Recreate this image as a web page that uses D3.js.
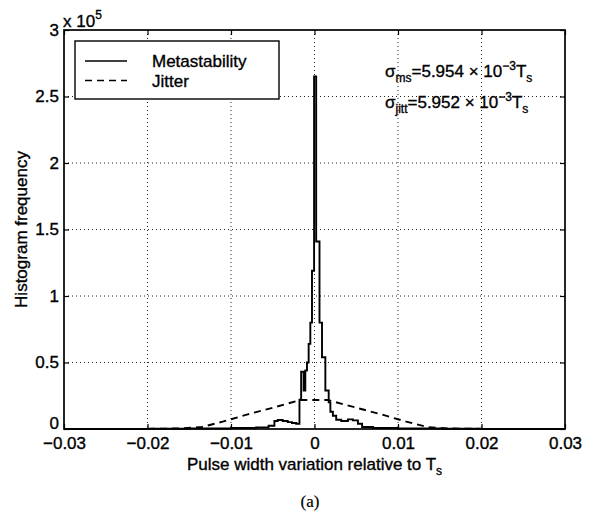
<!DOCTYPE html>
<html>
<head>
<meta charset="utf-8">
<script src="https://cdn.jsdelivr.net/npm/d3@7"></script>
<style>
	body{margin:0;background:#fff;}
	svg{display:block;font-family:"Liberation Sans",Arial,sans-serif;}
	svg text{fill:#000;stroke:#000;stroke-width:0.35px;}
</style>
</head>
<body>
<svg id="chart" width="595" height="514"></svg>
<script>
// metastability histogram, drawn as stairs: bin edges and heights (x 10^5)
var metaEdges = [-0.0300, -0.0200, -0.0150, -0.0100, -0.0070, -0.0055, -0.0048, -0.0044, -0.0038, -0.0032,
	-0.0027, -0.0022, -0.0018, -0.0016, -0.0013, -0.0011, -0.0009, -0.0007, -0.0005, -0.0003,
	-0.00005, 0.0002, 0.0006, 0.0009, 0.0013, 0.0017, 0.0019, 0.0022, 0.0026, 0.0032,
	0.0040, 0.0046, 0.0052, 0.0057, 0.0070, 0.0100, 0.0150, 0.0200, 0.0300];
var metaCounts = [0.000, 0.002, 0.004, 0.008, 0.012, 0.025, 0.060, 0.068, 0.060, 0.052,
	0.045, 0.040, 0.220, 0.430, 0.290, 0.440, 0.500, 0.640, 0.800, 1.190,
	2.650, 1.410, 0.800, 0.540, 0.290, 0.200, 0.130, 0.100, 0.070, 0.060,
	0.072, 0.065, 0.040, 0.015, 0.008, 0.004, 0.002, 0.000];

// jitter histogram (x 10^5)
var jitterX = [-0.030, -0.020, -0.016, -0.0135, -0.011, -0.008, -0.005, -0.0017,
	0.0016, 0.005, 0.008, 0.011, 0.0135, 0.016, 0.020, 0.030];
var jitterY = [0, 0.001, 0.004, 0.015, 0.055, 0.110, 0.160, 0.218,
	0.218, 0.160, 0.110, 0.055, 0.015, 0.004, 0.001, 0];

var xTicks = [-0.03, -0.02, -0.01, 0, 0.01, 0.02, 0.03];
var xTickLabels = ["\u22120.03", "\u22120.02", "\u22120.01", "0", "0.01", "0.02", "0.03"];
var yTicks = [0, 0.5, 1, 1.5, 2, 2.5, 3];
var yTickLabels = ["0", "0.5", "1", "1.5", "2", "2.5", "3"];
var legendLabels = ["Metastability", "Jitter"];
var sigmaValues = ["5.954", "5.952"];
var sigmaSubs = ["ms", "jitt"];

function drawChart(){
	var svg = d3.select("#chart"),
		margin = {top: 30, right: 30, bottom: 85, left: 64},
		width = 595,
		height = 514,
		fontSize = "17px",
		subSize = "12px",
		plotW = width - margin.left - margin.right,
		plotH = height - margin.top - margin.bottom,
		xRange = d3.scaleLinear().domain([-0.03, 0.03]).range([0, plotW]),
		yRange = d3.scaleLinear().domain([0, 3]).range([plotH, 0]),
		plot,
		tickFmtX = function(d, i){ return xTickLabels[i]; },
		tickFmtY = function(d, i){ return yTickLabels[i]; };

	initPlot();
	drawGrid();
	drawLines();
	drawAxes();
	drawLegend();
	drawSigmas();
	drawLabels();

	function initPlot(){
		plot = svg.append("g").attr("transform", "translate(" + margin.left + "," + margin.top + ")");
	}

	function drawGrid(){
		var grid = plot.append("g").attr("class", "grid");
		grid.selectAll(".gx").data(xTicks.slice(1, -1)).enter().append("line")
			.attr("x1", function(d){ return xRange(d); })
			.attr("x2", function(d){ return xRange(d); })
			.attr("y1", 0).attr("y2", plotH);
		grid.selectAll(".gy").data(yTicks.slice(1, -1)).enter().append("line")
			.attr("y1", function(d){ return yRange(d); })
			.attr("y2", function(d){ return yRange(d); })
			.attr("x1", 0).attr("x2", plotW);
		grid.selectAll("line")
			.attr("stroke", "#222")
			.attr("stroke-width", 1)
			.attr("stroke-dasharray", "1,3");
	}

	function drawLines(){
		var stairs = metaCounts.map(function(c, i){ return [metaEdges[i], c]; });
		stairs.push([metaEdges[metaEdges.length - 1], metaCounts[metaCounts.length - 1]]);

		var stepLine = d3.line()
			.x(function(d){ return xRange(d[0]); })
			.y(function(d){ return yRange(d[1]); })
			.curve(d3.curveStepAfter);
		var jitLine = d3.line()
			.x(function(d){ return xRange(d[0]); })
			.y(function(d){ return yRange(d[1]); });

		plot.append("path")
			.attr("d", jitLine(jitterX.map(function(x, i){ return [x, jitterY[i]]; })))
			.attr("fill", "none")
			.attr("stroke", "#000")
			.attr("stroke-width", 1.9)
			.attr("stroke-dasharray", "7,5");

		plot.append("path")
			.attr("d", stepLine(stairs))
			.attr("fill", "none")
			.attr("stroke", "#000")
			.attr("stroke-width", 1.9);
	}

	function drawAxes(){
		var xBottom = d3.axisBottom(xRange).tickValues(xTicks).tickFormat(tickFmtX).tickSizeInner(-5).tickSizeOuter(0).tickPadding(8),
			xTop = d3.axisTop(xRange).tickValues(xTicks).tickFormat("").tickSizeInner(-5).tickSizeOuter(0),
			yLeft = d3.axisLeft(yRange).tickValues(yTicks).tickFormat(tickFmtY).tickSizeInner(-5).tickSizeOuter(0).tickPadding(5),
			yRight = d3.axisRight(yRange).tickValues(yTicks).tickFormat("").tickSizeInner(-5).tickSizeOuter(0);

		var gx = plot.append("g").attr("transform", "translate(0," + plotH + ")").call(xBottom);
		plot.append("g").call(xTop);
		var gy = plot.append("g").call(yLeft);
		plot.append("g").attr("transform", "translate(" + plotW + ",0)").call(yRight);

		plot.selectAll(".domain").remove();
		plot.selectAll(".tick line").attr("stroke", "#000").attr("stroke-width", 1.2);
		plot.selectAll(".tick text")
			.style("font-family", "'Liberation Sans',Arial,sans-serif")
			.style("font-size", fontSize);
		gx.selectAll(".tick text").attr("dy", "0.72em");
		// lift the bottom y label so it clears the x labels
		gy.selectAll(".tick text").filter(function(d){ return d === 0; }).attr("dy", "-0.05em");

		plot.append("rect")
			.attr("x", 0).attr("y", 0)
			.attr("width", plotW).attr("height", plotH)
			.attr("fill", "none")
			.attr("stroke", "#000")
			.attr("stroke-width", 1.7);

		// exponent above the y axis
		var expo = svg.append("text").attr("x", margin.left - 1).attr("y", 27).style("font-size", fontSize);
		expo.append("tspan").text("x 10");
		expo.append("tspan").attr("dy", -8).style("font-size", subSize).text("5");
	}

	function drawLegend(){
		var lg = svg.append("g").attr("transform", "translate(75,41)");
		lg.append("rect")
			.attr("width", 204).attr("height", 58)
			.attr("fill", "#fff")
			.attr("stroke", "#000")
			.attr("stroke-width", 1.4);
		var items = lg.selectAll(".item").data(legendLabels).enter().append("g")
			.attr("transform", function(d, i){ return "translate(0," + (20 + i * 19.5) + ")"; });
		items.append("line")
			.attr("x1", 10).attr("x2", 52)
			.attr("stroke", "#000")
			.attr("stroke-width", 1.7)
			.attr("stroke-dasharray", function(d, i){ return i ? "7,5" : null; });
		items.append("text")
			.attr("x", 77).attr("y", 6)
			.style("font-size", fontSize)
			.text(function(d){ return d; });
	}

	function drawSigmas(){
		var rows = svg.selectAll(".sigma").data(sigmaValues).enter().append("text")
			.attr("class", "sigma")
			.attr("x", 385)
			.attr("y", function(d, i){ return 77 + i * 31; })
			.style("font-size", fontSize);
		rows.append("tspan").text("\u03c3");
		rows.append("tspan").attr("dy", 5).style("font-size", subSize).text(function(d, i){ return sigmaSubs[i]; });
		rows.append("tspan").attr("dy", -5).text(function(d){ return "=" + d + " \u00d7 10"; });
		rows.append("tspan").attr("dy", -7).style("font-size", subSize).text("\u22123");
		rows.append("tspan").attr("dy", 7).text("T");
		rows.append("tspan").attr("dy", 5).style("font-size", subSize).text("s");
	}

	function drawLabels(){
		var xl = svg.append("text")
			.attr("x", margin.left + plotW / 2)
			.attr("y", 470)
			.attr("text-anchor", "middle")
			.style("font-size", fontSize);
		xl.append("tspan").text("Pulse width variation relative to T");
		xl.append("tspan").attr("dy", 5).style("font-size", subSize).text("s");

		svg.append("text")
			.attr("transform", "translate(27," + (margin.top + plotH / 2) + ") rotate(-90)")
			.attr("text-anchor", "middle")
			.style("font-size", fontSize)
			.text("Histogram frequency");

		svg.append("text")
			.attr("x", 310)
			.attr("y", 507)
			.attr("text-anchor", "middle")
			.style("font-family", "'Liberation Serif','Times New Roman',serif")
			.style("font-size", "17px")
			.style("stroke-width", "0.2px")
			.text("(a)");
	}
}

drawChart();
</script>
</body>
</html>
